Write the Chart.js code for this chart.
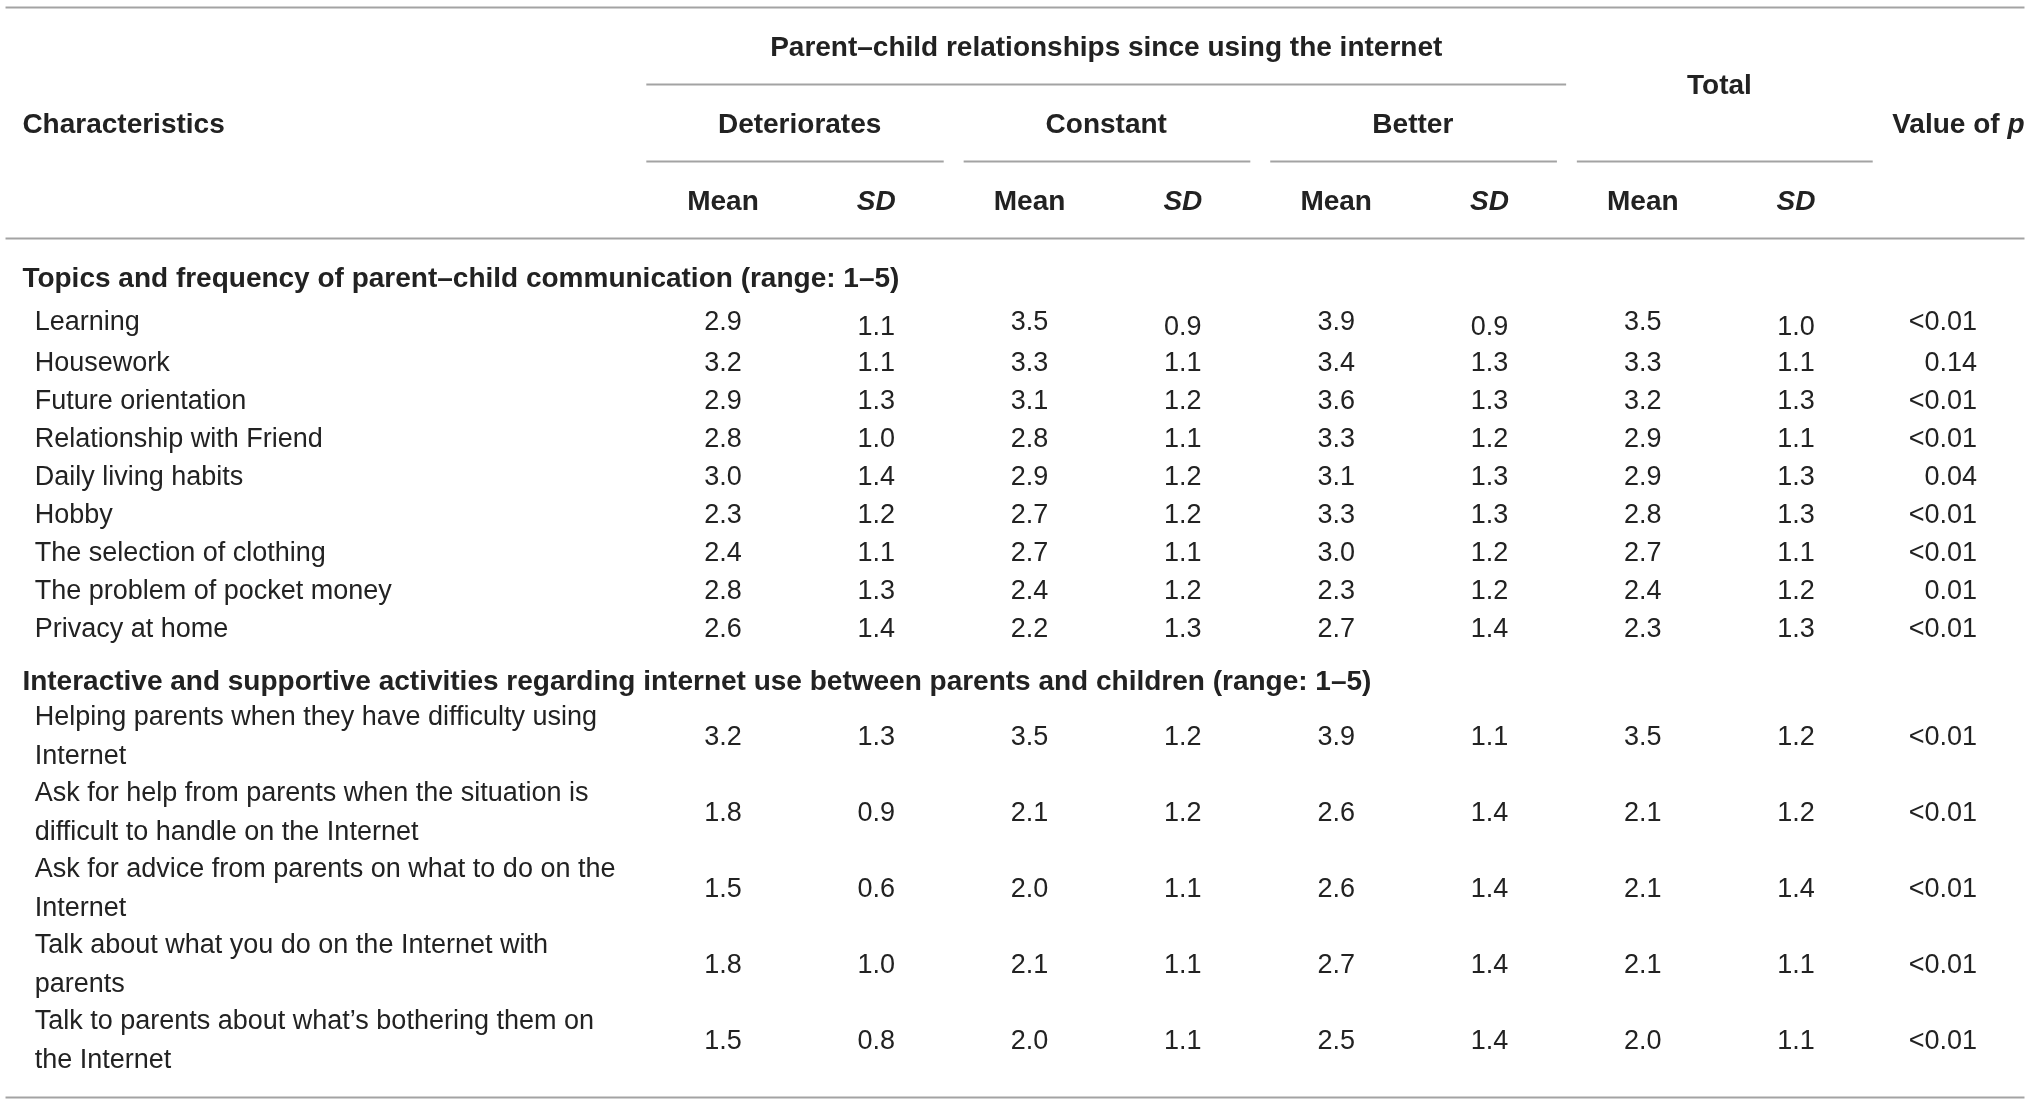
<!DOCTYPE html>
<html>
<head>
<meta charset="utf-8">
<script src="https://cdn.jsdelivr.net/npm/chart.js@4"></script>
<style>
  html, body { margin: 0; padding: 0; background: #fff; }
  #wrap { width: 2032px; height: 1105px; }
</style>
</head>
<body>
<div id="wrap"><canvas id="tableChart" width="2032" height="1105"></canvas></div>
<script>
// Table content
const sectionTitles = [
    'Topics and frequency of parent\u2013child communication (range: 1\u20135)',
    'Interactive and supportive activities regarding internet use between parents and children (range: 1\u20135)'
];
const rowLabels = [
    ['Learning'],
    ['Housework'],
    ['Future orientation'],
    ['Relationship with Friend'],
    ['Daily living habits'],
    ['Hobby'],
    ['The selection of clothing'],
    ['The problem of pocket money'],
    ['Privacy at home'],
    ['Helping parents when they have difficulty using', 'Internet'],
    ['Ask for help from parents when the situation is', 'difficult to handle on the Internet'],
    ['Ask for advice from parents on what to do on the', 'Internet'],
    ['Talk about what you do on the Internet with', 'parents'],
    ['Talk to parents about what\u2019s bothering them on', 'the Internet']
];
const deterioratesMean = [2.9, 3.2, 2.9, 2.8, 3.0, 2.3, 2.4, 2.8, 2.6, 3.2, 1.8, 1.5, 1.8, 1.5];
const deterioratesSD   = [1.1, 1.1, 1.3, 1.0, 1.4, 1.2, 1.1, 1.3, 1.4, 1.3, 0.9, 0.6, 1.0, 0.8];
const constantMean     = [3.5, 3.3, 3.1, 2.8, 2.9, 2.7, 2.7, 2.4, 2.2, 3.5, 2.1, 2.0, 2.1, 2.0];
const constantSD       = [0.9, 1.1, 1.2, 1.1, 1.2, 1.2, 1.1, 1.2, 1.3, 1.2, 1.2, 1.1, 1.1, 1.1];
const betterMean       = [3.9, 3.4, 3.6, 3.3, 3.1, 3.3, 3.0, 2.3, 2.7, 3.9, 2.6, 2.6, 2.7, 2.5];
const betterSD         = [0.9, 1.3, 1.3, 1.2, 1.3, 1.3, 1.2, 1.2, 1.4, 1.1, 1.4, 1.4, 1.4, 1.4];
const totalMean        = [3.5, 3.3, 3.2, 2.9, 2.9, 2.8, 2.7, 2.4, 2.3, 3.5, 2.1, 2.1, 2.1, 2.0];
const totalSD          = [1.0, 1.1, 1.3, 1.1, 1.3, 1.3, 1.1, 1.2, 1.3, 1.2, 1.2, 1.4, 1.1, 1.1];
const pValues = ['<0.01', '0.14', '<0.01', '<0.01', '0.04', '<0.01', '<0.01', '0.01', '<0.01',
                 '<0.01', '<0.01', '<0.01', '<0.01', '<0.01'];
const spanTitle = 'Parent\u2013child relationships since using the internet';
const groupTitles = ['Deteriorates', 'Constant', 'Better', 'Total'];
const statTitles = ['Mean', 'SD'];
const firstColTitle = 'Characteristics';
const lastColTitle = 'Value of ';

// layout (in scale units: x = column number, y = table line)
const topicCount = 9;
const labelX = -3.49, titleX = -3.57, leftX = -3.68, rightX = 9.49, pRightX = 9.18;
const rows = {
    top: -8.39, span: -7.30, spanLine: -6.37, group: -5.28, groupLine: -4.34,
    stat: -3.26, headLine: -2.32, section1: -1.24, section2: 9.37, bottom: 20.29
};
function rowY(i) {
    if (i === 0) return -0.1;
    return i < topicCount ? i : 10.82 + 2 * (i - topicCount);
}
// the SD cells of the first row sit a little lower in the source
function cellShift(col, i) {
    return (i === 0 && col % 2 === 1) ? 0.13 : 0;
}

const lineColor = '#a3a3a3';
const textColor = '#222222';
const bodyFont = '27px "Liberation Sans", Arial, sans-serif';
const boldFont = 'bold 28px "Liberation Sans", Arial, sans-serif';
const italicBoldFont = 'italic bold 28px "Liberation Sans", Arial, sans-serif';

const columns = [deterioratesMean, deterioratesSD, constantMean, constantSD,
                 betterMean, betterSD, totalMean, totalSD];

// one scatter dataset per column, each point is a cell
const datasets = columns.map((col, c) => ({
    label: 'col' + c,
    data: col.map((v, i) => ({x: c + 1, y: rowY(i) + cellShift(c, i), v: v.toFixed(1)})),
    pointRadius: 0,
    pointHoverRadius: 0
}));
datasets.push({
    label: 'p',
    data: pValues.map((v, i) => ({x: pRightX, y: rowY(i), v: v})),
    pointRadius: 0,
    pointHoverRadius: 0
});

function hLine(ctx, xs, ys, x0, x1, y) {
    const py = Math.round(ys.getPixelForValue(y)) + 0.5;
    ctx.beginPath();
    ctx.moveTo(xs.getPixelForValue(x0), py);
    ctx.lineTo(xs.getPixelForValue(x1), py);
    ctx.stroke();
}

const tablePlugin = {
    id: 'tableText',
    afterDatasetsDraw(chart) {
        const ctx = chart.ctx;
        const xs = chart.scales.x, ys = chart.scales.y;
        ctx.save();

        // rules
        ctx.strokeStyle = lineColor;
        ctx.lineWidth = 2;
        hLine(ctx, xs, ys, leftX, rightX, rows.top);
        hLine(ctx, xs, ys, 0.5, 6.5, rows.spanLine);
        for (let g = 0; g < 4; g++) {
            const a = 2 * g + 0.5 + (g > 0 ? 0.07 : 0);
            const b = 2 * g + 2.5 - (g < 3 ? 0.06 : 0);
            hLine(ctx, xs, ys, a, b, rows.groupLine);
        }
        hLine(ctx, xs, ys, leftX, rightX, rows.headLine);
        hLine(ctx, xs, ys, leftX, rightX, rows.bottom);

        // header text
        ctx.fillStyle = textColor;
        ctx.textBaseline = 'middle';
        ctx.font = boldFont;
        ctx.textAlign = 'center';
        ctx.fillText(spanTitle, xs.getPixelForValue(3.5), ys.getPixelForValue(rows.span));
        ctx.fillText(groupTitles[3], xs.getPixelForValue(7.5), ys.getPixelForValue(rows.spanLine + 0.05));
        for (let g = 0; g < 3; g++) {
            ctx.fillText(groupTitles[g], xs.getPixelForValue(2 * g + 1.5), ys.getPixelForValue(rows.group));
        }
        for (let c = 1; c <= 8; c++) {
            ctx.font = c % 2 ? boldFont : italicBoldFont;
            ctx.fillText(statTitles[(c + 1) % 2], xs.getPixelForValue(c), ys.getPixelForValue(rows.stat));
        }
        ctx.textAlign = 'left';
        ctx.font = boldFont;
        ctx.fillText(firstColTitle, xs.getPixelForValue(titleX), ys.getPixelForValue(rows.group));
        ctx.textAlign = 'right';
        ctx.font = italicBoldFont;
        const pw = ctx.measureText('p').width;
        ctx.fillText('p', xs.getPixelForValue(rightX), ys.getPixelForValue(rows.group));
        ctx.font = boldFont;
        ctx.fillText(lastColTitle, xs.getPixelForValue(rightX) - pw, ys.getPixelForValue(rows.group));

        // section titles
        ctx.textAlign = 'left';
        ctx.fillText(sectionTitles[0], xs.getPixelForValue(titleX), ys.getPixelForValue(rows.section1));
        ctx.fillText(sectionTitles[1], xs.getPixelForValue(titleX), ys.getPixelForValue(rows.section2));

        // row labels
        ctx.font = bodyFont;
        const step = ys.getPixelForValue(1) - ys.getPixelForValue(0);
        rowLabels.forEach((lines, i) => {
            const cy = ys.getPixelForValue(rowY(i));
            lines.forEach((t, k) => {
                const off = (k - (lines.length - 1) / 2) * step * 1.02;
                ctx.fillText(t, xs.getPixelForValue(labelX), cy + off);
            });
        });

        // cells, placed by the dataset points
        chart.data.datasets.forEach((ds, d) => {
            const meta = chart.getDatasetMeta(d);
            ctx.textAlign = ds.label === 'p' ? 'right' : 'center';
            meta.data.forEach((el, i) => {
                ctx.fillText(ds.data[i].v, el.x, el.y);
            });
        });
        ctx.restore();
    }
};

new Chart(document.getElementById('tableChart'), {
    type: 'scatter',
    data: {datasets: datasets},
    options: {
        responsive: false,
        animation: false,
        devicePixelRatio: 1,
        layout: {padding: 0},
        plugins: {legend: {display: false}, tooltip: {enabled: false}},
        events: [],
        scales: {
            x: {type: 'linear', display: false, min: -3.716, max: 9.539},
            y: {type: 'linear', display: false, min: -8.579, max: 20.5, reverse: true}
        }
    },
    plugins: [tablePlugin]
});
</script>
</body>
</html>
